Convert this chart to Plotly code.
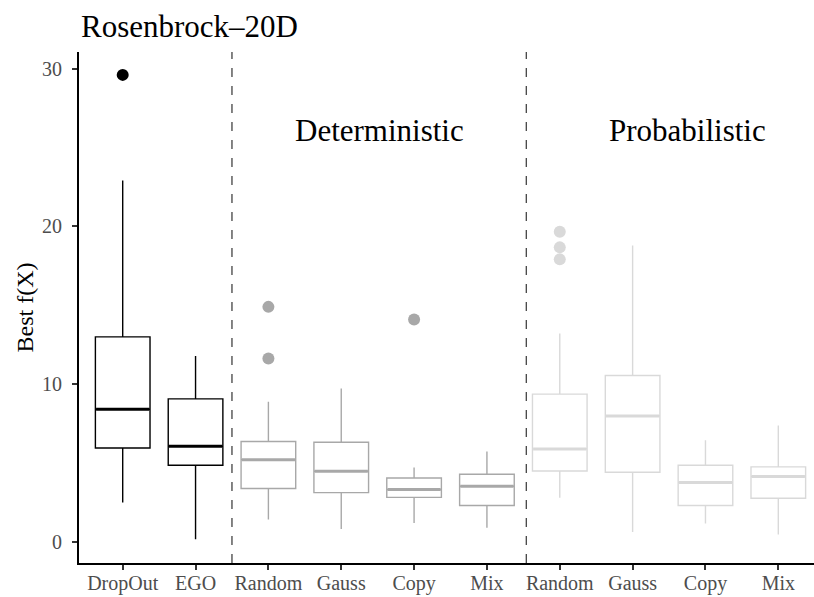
import plotly.graph_objects as go

# ---- data ----
tick_labels = ["DropOut", "EGO", "Random", "Gauss", "Copy", "Mix", "Random", "Gauss", "Copy", "Mix"]
groups = ["base", "base", "det", "det", "det", "det", "prob", "prob", "prob", "prob"]
lower_whisker = [2.50, 0.17, 1.42, 0.83, 1.21, 0.91, 2.81, 0.63, 1.17, 0.47]
q1 = [5.96, 4.86, 3.39, 3.13, 2.83, 2.31, 4.50, 4.42, 2.31, 2.77]
median = [8.41, 6.07, 5.22, 4.48, 3.32, 3.53, 5.90, 7.99, 3.77, 4.15]
q3 = [13.00, 9.07, 6.37, 6.32, 4.06, 4.29, 9.37, 10.55, 4.86, 4.76]
upper_whisker = [22.9, 11.78, 8.88, 9.73, 4.72, 5.73, 13.21, 18.79, 6.45, 7.38]
outliers = [[29.6], [], [14.9, 11.63], [], [14.1], [], [19.66, 18.67, 17.91], [], [], []]
y_ticks = [0, 10, 20, 30]

group_colors = {"base": "#000000", "det": "#a8a8a8", "prob": "#d9d9d9"}
separators = [2.5, 6.54]
section_labels = ["Deterministic", "Probabilistic"]
section_x = [4.53, 8.75]
section_y = [26.1, 26.1]

positions = list(range(1, len(tick_labels) + 1))
box_w = 0.75

fig = go.Figure()
serif = "Liberation Serif, Times New Roman, serif"

for i, pos in enumerate(positions):
    col = group_colors[groups[i]]
    fig.add_trace(go.Box(
        x=[pos], q1=[q1[i]], median=[median[i]], q3=[q3[i]],
        lowerfence=[lower_whisker[i]], upperfence=[upper_whisker[i]],
        width=box_w, whiskerwidth=0,
        fillcolor="white", line=dict(color=col, width=1.4),
        boxpoints=False, showlegend=False, hoverinfo="skip",
    ))
    # thicker median line, derived from data
    fig.add_trace(go.Scatter(
        x=[pos - box_w / 2 + 0.01, pos + box_w / 2 - 0.01], y=[median[i], median[i]],
        mode="lines", line=dict(color=col, width=3), showlegend=False, hoverinfo="skip",
    ))
    if outliers[i]:
        fig.add_trace(go.Scatter(
            x=[pos] * len(outliers[i]), y=outliers[i], mode="markers",
            marker=dict(color=col, size=12), showlegend=False, hoverinfo="skip",
        ))

for s in separators:
    fig.add_shape(type="line", xref="x", yref="paper", x0=s, x1=s, y0=0, y1=1,
                  line=dict(color="#222222", width=1.1, dash="dash"), layer="below")

for lab, sx, sy in zip(section_labels, section_x, section_y):
    fig.add_annotation(x=sx, y=sy, text=lab, showarrow=False,
                       font=dict(family=serif, size=31, color="#000000"))

fig.update_layout(
    width=814, height=597,
    paper_bgcolor="white", plot_bgcolor="white",
    margin=dict(l=79, r=0, t=52, b=34),
    title=dict(text="Rosenbrock\u201320D", x=81 / 814, xanchor="left", y=1 - 26 / 597, yanchor="middle",
               font=dict(family=serif, size=31, color="#000000")),
    font=dict(family=serif),
    xaxis=dict(range=[0.4, 10.49], tickvals=positions, ticktext=tick_labels, automargin=False,
               showgrid=False, zeroline=False, showline=True, linecolor="black", linewidth=2,
               ticks="outside", ticklen=5, tickcolor="#333333", tickwidth=1.5, ticklabelstandoff=-4,
               tickfont=dict(family=serif, size=20, color="#4d4d4d")),
    yaxis=dict(range=[-1.33, 31.05], tickvals=y_ticks, automargin=False,
               showgrid=False, zeroline=False, showline=True, linecolor="black", linewidth=2,
               ticks="outside", ticklen=5, tickcolor="#333333", tickwidth=1.5, ticklabelstandoff=6,
               tickfont=dict(family=serif, size=20, color="#4d4d4d"),
               title=dict(text="Best f(X)", font=dict(family=serif, size=24, color="#000000"), standoff=2)),
)

fig.write_html("out.html", config={"displayModeBar": False},
               post_script="document.body.style.margin='0';document.body.style.overflow='hidden';")
